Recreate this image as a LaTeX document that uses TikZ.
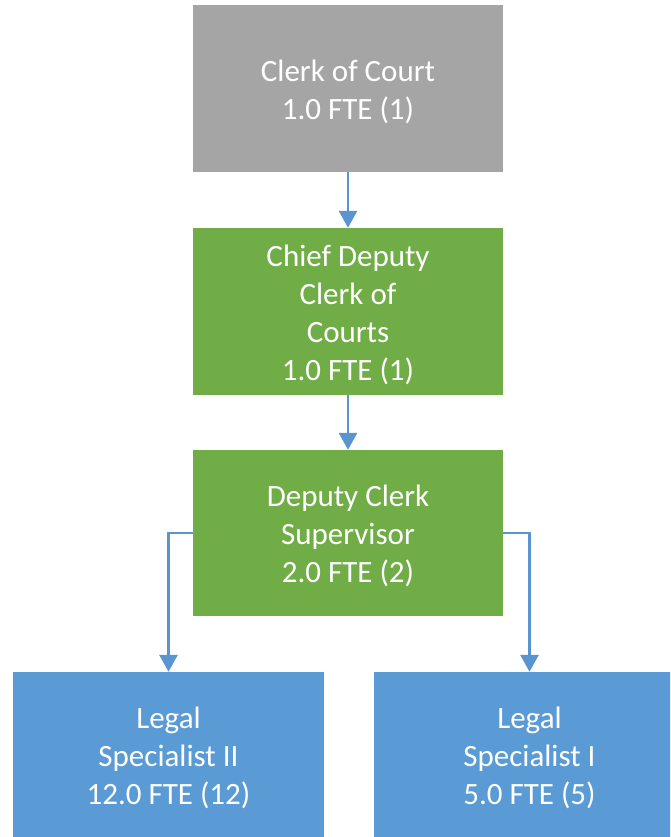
\documentclass[tikz,border=0pt]{standalone}
\usepackage{fontspec}
\setmainfont{Carlito}
\usetikzlibrary{arrows.meta}
\definecolor{boxgray}{HTML}{A5A5A5}
\definecolor{boxgreen}{HTML}{70AD47}
\definecolor{boxblue}{HTML}{5B9BD5}
\definecolor{linkblue}{HTML}{5B95D0}
\newcommand\tst{\rule{0pt}{30.6pt}}
\newcommand\bst{\rule[-7.4pt]{0pt}{7.4pt}}
\tikzset{
  orgbox/.style={rectangle, draw=none, inner sep=0pt, text=white, align=center,
    font=\fontsize{31}{38}\selectfont, minimum width=310pt},
  link/.style={draw=linkblue, line width=2.8pt,
    -{Triangle[width=18pt,length=17pt]}}
}
\begin{document}
\begin{tikzpicture}[x=1pt,y=-1pt]
\useasboundingbox (0,0) rectangle (670,837);
\clip (0,0) rectangle (670,837);
\fill[white] (0,0) rectangle (670,837);
\node[orgbox, fill=boxgray, minimum height=167pt] (clerk) at (348,88.5) {\tst Clerk of Court\\1.0 FTE (1)\bst};
\node[orgbox, fill=boxgreen, minimum height=167pt] (chief) at (348,311.5) {\tst Chief Deputy\\Clerk of\\Courts\\1.0 FTE (1)\bst};
\node[orgbox, fill=boxgreen, minimum height=166pt] (dep) at (348,533) {\tst Deputy Clerk\\Supervisor\\2.0 FTE (2)\bst};
\node[orgbox, fill=boxblue, minimum width=311pt, minimum height=166pt] (ls2) at (168.5,755) {\tst Legal\\Specialist II\\12.0 FTE (12)\bst};
\node[orgbox, fill=boxblue, minimum width=311pt, minimum height=166pt] (ls1) at (529.5,755) {\tst Legal\\Specialist I\\5.0 FTE (5)\bst};
\draw[link] (clerk.south) -- (chief.north);
\draw[link] (chief.south) -- (dep.north);
\draw[link] (dep.west) -| (ls2.north);
\draw[link] (dep.east) -| (ls1.north);
\end{tikzpicture}
\end{document}
